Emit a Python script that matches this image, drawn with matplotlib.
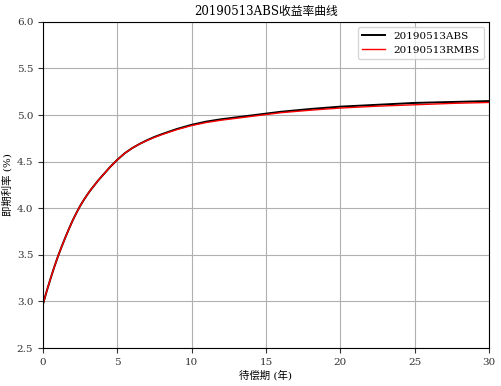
import matplotlib
matplotlib.use("Agg")
import matplotlib.pyplot as plt

plt.rcParams['font.family'] = ['DejaVu Serif', 'Noto Sans CJK SC']
plt.rcParams['axes.unicode_minus'] = False

maturity = [0, 0.25, 0.5, 0.75, 1, 1.25, 1.5, 1.75, 2, 2.25, 2.5, 2.75, 3, 3.25, 3.5, 3.75, 4, 4.25, 4.5, 4.75,
            5, 5.5, 6, 6.5, 7, 7.5, 8, 9, 10, 11, 12, 14, 16, 18, 20, 22.5, 25, 27.5, 30]
abs_rate = [2.97, 3.11, 3.24, 3.365, 3.48, 3.585, 3.685, 3.78, 3.87, 3.95, 4.025, 4.09, 4.15, 4.205, 4.255, 4.305,
            4.35, 4.395, 4.44, 4.48, 4.52, 4.59, 4.645, 4.69, 4.73, 4.765, 4.795, 4.85, 4.895, 4.93, 4.955,
            4.995, 5.035, 5.065, 5.09, 5.11, 5.13, 5.14, 5.15]
rmbs_rate = [2.97, 3.11, 3.24, 3.365, 3.48, 3.585, 3.685, 3.78, 3.87, 3.95, 4.025, 4.09, 4.15, 4.205, 4.255, 4.305,
             4.35, 4.395, 4.44, 4.48, 4.52, 4.59, 4.645, 4.69, 4.727, 4.76, 4.79, 4.843, 4.887, 4.92, 4.945,
             4.985, 5.025, 5.052, 5.075, 5.095, 5.11, 5.125, 5.135]

title = "20190513ABS收益率曲线"
labels = ["20190513ABS", "20190513RMBS"]
xticks = [0, 5, 10, 15, 20, 25, 30]
yticks = [2.5, 3.0, 3.5, 4.0, 4.5, 5.0, 5.5, 6.0]

fig = plt.figure(figsize=(5.01, 3.86), dpi=100)
ax = fig.add_axes([0.0858, 0.0984, 0.890, 0.845])
ax.plot(maturity, abs_rate, color='black', lw=1.4, label=labels[0])
ax.plot(maturity, rmbs_rate, color='red', lw=1.0, label=labels[1])
ax.set_xlim(0, 30)
ax.set_ylim(2.5, 6.0)
ax.set_xticks(xticks)
ax.set_yticks(yticks)
ax.set_yticklabels([f"{v:.1f}" for v in yticks])
ax.grid(True, color='#b0b0b0', lw=0.8)
ax.tick_params(labelsize=7.5, length=3.5, colors='#333333')
ax.set_title(title, fontsize=8.5, pad=5)
ax.set_xlabel("待偿期 (年)", fontsize=7.5, labelpad=2)
ax.set_ylabel("即期利率 (%)", fontsize=7.5, labelpad=3)
ax.legend(loc='upper right', fontsize=7.5, frameon=True, handlelength=2.2)
fig.savefig("out.png", dpi=100)
